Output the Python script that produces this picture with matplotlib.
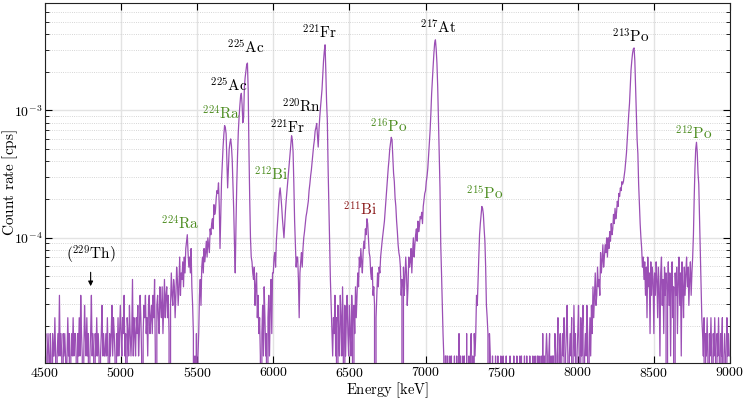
import numpy as np
import matplotlib
matplotlib.use('Agg')
from matplotlib import pyplot as plt

plt.rcParams['font.family'] = 'serif'
plt.rcParams['font.serif'] = ['cmr10']
plt.rcParams['mathtext.fontset'] = 'cm'
plt.rcParams['axes.formatter.use_mathtext'] = True

# counts per 5 keV bin (one row = 100 keV)
counts_4500_5500 = [
    2, 3, 0, 2, 3, 2, 1, 3, 2, 0, 3, 2, 2, 4, 2, 0, 2, 3, 2, 6,
    2, 3, 2, 0, 3, 2, 3, 2, 1, 2, 4, 2, 3, 0, 2, 3, 2, 4, 2, 3,
    3, 2, 0, 3, 2, 4, 2, 6, 3, 2, 0, 2, 5, 3, 2, 4, 2, 3, 0, 2,
    3, 6, 2, 3, 2, 0, 3, 2, 4, 2, 3, 2, 0, 2, 3, 5, 2, 3, 2, 2,
    3, 2, 4, 2, 0, 3, 2, 3, 5, 2, 4, 3, 2, 0, 3, 2, 4, 2, 3, 5,
    3, 2, 4, 3, 6, 2, 3, 0, 4, 3, 2, 5, 3, 2, 3, 8, 2, 4, 3, 2,
    4, 3, 5, 2, 3, 6, 4, 2, 0, 3, 5, 4, 6, 3, 4, 2, 5, 6, 3, 4,
    5, 3, 6, 4, 8, 2, 0, 5, 6, 4, 3, 7, 5, 4, 7, 3, 5, 8, 4, 6,
    7, 4, 6, 3, 0, 5, 9, 6, 5, 8, 7, 4, 6, 10, 8, 5, 7, 12, 6, 9,
    8, 11, 7, 12, 9, 14, 16, 18, 13, 10, 12, 9, 14, 7, 5, 3, 0, 2, 0, 3,
]
counts_5500_6500 = [
    0, 2, 3, 6, 8, 5, 10, 12, 9, 14, 11, 13, 16, 12, 17, 15, 13, 20, 18, 22,
    24, 20, 31, 26, 28, 35, 40, 38, 46, 30, 14, 25, 48, 65, 88, 110, 130, 125, 112, 70,
    42, 60, 84, 95, 102, 90, 70, 45, 28, 15, 9, 22, 45, 75, 115, 150, 185, 220, 233, 190,
    137, 150, 260, 310, 350, 390, 403, 250, 82, 35, 17, 12, 11, 9, 8, 10, 5, 7, 9, 4,
    6, 3, 4, 2, 0, 3, 5, 2, 7, 4, 2, 3, 0, 4, 6, 2, 5, 8, 3, 9,
    9, 12, 13, 10, 16, 20, 25, 32, 38, 42, 36, 30, 24, 20, 17, 22, 28, 34, 40, 48,
    55, 65, 75, 90, 108, 100, 80, 45, 23, 15, 10, 12, 12, 8, 4, 9, 11, 13, 10, 14,
    17, 19, 22, 25, 27, 30, 33, 40, 45, 52, 58, 68, 78, 90, 100, 118, 125, 135, 110, 88,
    120, 150, 180, 210, 250, 320, 420, 500, 561, 350, 200, 142, 60, 30, 15, 8, 5, 3, 2, 4,
    3, 6, 2, 4, 0, 5, 3, 2, 6, 4, 2, 7, 3, 0, 5, 2, 4, 6, 3, 2,
]
counts_6500_7500 = [
    5, 3, 2, 6, 4, 0, 5, 3, 7, 4, 6, 9, 7, 12, 10, 14, 11, 9, 13, 16,
    14, 20, 18, 24, 22, 17, 13, 12, 9, 8, 10, 6, 7, 5, 0, 4, 6, 9, 7, 10,
    9, 12, 14, 16, 18, 20, 23, 28, 35, 42, 50, 60, 70, 85, 95, 105, 100, 75, 55, 47,
    35, 30, 23, 19, 15, 13, 12, 10, 6, 8, 0, 10, 6, 8, 12, 9, 5, 7, 12, 10,
    11, 14, 9, 13, 17, 12, 15, 18, 20, 16, 23, 19, 21, 25, 24, 27, 22, 30, 34, 38,
    40, 47, 52, 60, 75, 95, 118, 160, 230, 300, 380, 480, 580, 614, 520, 400, 261, 140, 70, 42,
    15, 9, 5, 3, 2, 0, 2, 2, 0, 2, 0, 0, 2, 0, 2, 0, 0, 0, 2, 0,
    0, 2, 0, 0, 3, 0, 2, 0, 0, 2, 0, 2, 0, 0, 3, 0, 0, 2, 0, 2,
    3, 0, 2, 0, 3, 2, 3, 6, 5, 8, 12, 18, 22, 26, 30, 29, 26, 20, 16, 10,
    5, 4, 3, 0, 3, 2, 0, 0, 2, 0, 0, 0, 2, 0, 0, 2, 0, 0, 0, 2,
]
counts_7500_9000 = [
    0, 0, 2, 0, 0, 0, 2, 0, 0, 0, 0, 2, 0, 0, 0, 0, 2, 0, 0, 0,
    2, 0, 0, 0, 2, 0, 2, 0, 0, 0, 2, 0, 0, 2, 0, 0, 0, 2, 0, 0,
    0, 2, 0, 0, 2, 0, 0, 2, 0, 2, 0, 0, 2, 0, 3, 0, 2, 0, 2, 3,
    2, 0, 2, 3, 0, 2, 0, 2, 2, 0, 3, 2, 0, 2, 4, 0, 2, 3, 0, 2,
    3, 2, 4, 0, 2, 3, 5, 2, 0, 2, 3, 2, 4, 0, 2, 5, 2, 3, 0, 2,
    3, 5, 2, 0, 4, 2, 3, 5, 0, 2, 3, 2, 5, 3, 0, 2, 4, 2, 5, 3,
    7, 4, 6, 9, 5, 6, 10, 7, 8, 6, 13, 9, 11, 15, 10, 12, 15, 13, 17, 12,
    17, 14, 19, 16, 22, 18, 20, 26, 22, 29, 24, 27, 33, 30, 38, 36, 42, 40, 47, 45,
    47, 52, 58, 68, 79, 100, 130, 160, 194, 260, 355, 420, 480, 520, 530, 420, 261, 170, 100, 78,
    45, 31, 22, 17, 14, 10, 12, 8, 11, 6, 10, 4, 12, 7, 9, 3, 11, 6, 10, 8,
    3, 9, 6, 11, 8, 4, 10, 7, 2, 9, 12, 5, 8, 3, 10, 6, 9, 0, 7, 11,
    5, 9, 2, 8, 11, 4, 7, 0, 9, 6, 10, 3, 8, 12, 5, 9, 2, 11, 7, 4,
    10, 6, 9, 12, 7, 10, 5, 8, 11, 6, 9, 12, 18, 35, 60, 85, 96, 80, 55, 45,
    25, 14, 8, 4, 3, 2, 4, 0, 3, 2, 4, 2, 0, 3, 2, 4, 2, 0, 3, 2,
    4, 2, 0, 3, 2, 4, 2, 0, 3, 2, 4, 0, 2, 3, 2, 0, 4, 2, 3, 2,
]
cps_per_count = 5.85e-6

counts = np.array(counts_4500_5500 + counts_5500_6500 + counts_6500_7500 + counts_7500_9000, dtype=float)
energy = np.arange(4500, 4500 + 5 * len(counts), 5)
rate = counts * cps_per_count

# isotope labels: text, energy, rate, colour
lbl_text = ['224Ra', '224Ra', '225Ac', '225Ac', '212Bi', '221Fr', '220Rn', '221Fr',
            '211Bi', '216Po', '217At', '215Po', '213Po', '212Po']
lbl_e = [5387, 5656, 5706, 5821, 5988, 6097, 6185, 6307, 6573, 6760, 7082, 7391, 8347, 8758]
lbl_y = [1.29e-4, 9.46e-4, 1.58e-3, 3.1e-3, 3.1e-4, 7.3e-4, 1.08e-3, 4.08e-3,
         1.67e-4, 7.46e-4, 4.48e-3, 2.23e-4, 3.8e-3, 6.57e-4]
green = '#4b8c1e'
red = '#8b1a1a'
lbl_col = [green, green, 'k', 'k', green, 'k', 'k', 'k', red, green, 'k', green, 'k', green]

fig = plt.figure(figsize=(7.47, 3.99), dpi=100)
ax = fig.add_axes([0.0602, 0.0902, 0.9170, 0.9023])

ax.plot(energy, rate, color='#9b4fb5', lw=0.9)
ax.set_yscale('log')
ax.set_xlim(4500, 9000)
ax.set_ylim(1.03e-5, 7e-3)
ax.set_xticks(np.arange(4500, 9001, 500))

ax.grid(True, which='major', color='#e3e3e3', lw=1.0, ls='-')
ax.grid(True, which='minor', axis='y', color='#c8c8c8', lw=0.6, ls=':')
ax.set_axisbelow(True)
ax.tick_params(which='both', direction='in', top=True, right=True, labelsize=10)
ax.tick_params(axis='y', pad=2)
ax.tick_params(axis='x', pad=2.5)
ax.tick_params(which='major', length=5)
ax.tick_params(which='minor', length=3)

ax.set_xlabel(r'$\mathrm{Energy\ [keV]}$', fontsize=10.5)
ax.set_ylabel(r'$\mathrm{Count\ rate\ [cps]}$', fontsize=11)
ax.xaxis.set_label_coords(0.5, -0.047)
ax.yaxis.set_label_coords(-0.037, 0.5)

for t, e, y, c in zip(lbl_text, lbl_e, lbl_y, lbl_col):
    ax.text(e, y, r'$^{%s}\mathrm{%s}$' % (t[:3], t[3:]), color=c, fontsize=11,
            ha='center', va='center')

ax.annotate('', xy=(4800, 3.94e-5), xytext=(4800, 5.6e-5),
            arrowprops=dict(arrowstyle='-|>', color='k', lw=0.8, mutation_scale=7))
ax.text(4800, 7.3e-5, r'$(^{229}\mathrm{Th})$', fontsize=11, ha='center', va='center')

for s in ax.spines.values():
    s.set_color('#222222')

fig.savefig('out.png', dpi=100)
